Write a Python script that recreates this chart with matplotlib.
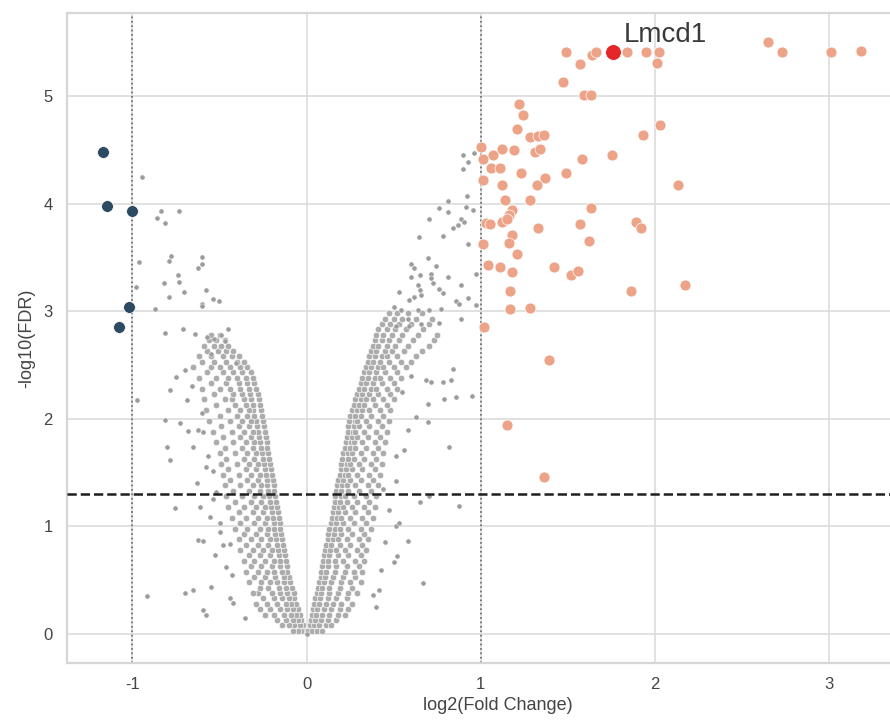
import matplotlib
matplotlib.use("Agg")
import matplotlib.pyplot as plt
import numpy as np

plt.rcParams['font.family'] = ['Liberation Sans', 'DejaVu Sans']
plt.rcParams['axes.unicode_minus'] = False

# ---- data ----
# dense grey core, left arm: (-log10 FDR, [log2 FC values])
left_core = [
    (0.03, [-0.01, -0.03, -0.05, -0.08]),
    (0.08, [-0.02, -0.04, -0.07, -0.10, -0.14]),
    (0.13, [-0.03, -0.05, -0.08, -0.12, -0.17]),
    (0.18, [-0.04, -0.06, -0.09, -0.13, -0.19, -0.24]),
    (0.23, [-0.05, -0.08, -0.11, -0.15, -0.21, -0.27]),
    (0.28, [-0.06, -0.09, -0.12, -0.17, -0.23, -0.29]),
    (0.33, [-0.07, -0.10, -0.14, -0.19, -0.25]),
    (0.38, [-0.075, -0.11, -0.15, -0.20, -0.28, -0.31]),
    (0.43, [-0.085, -0.12, -0.16, -0.22, -0.27]),
    (0.48, [-0.095, -0.13, -0.17, -0.21, -0.26, -0.33]),
    (0.53, [-0.10, -0.13, -0.18, -0.24, -0.30]),
    (0.58, [-0.11, -0.14, -0.19, -0.23, -0.28, -0.35]),
    (0.63, [-0.115, -0.15, -0.20, -0.26, -0.32]),
    (0.68, [-0.12, -0.155, -0.19, -0.24, -0.30, -0.36]),
    (0.73, [-0.125, -0.16, -0.21, -0.27, -0.33]),
    (0.78, [-0.13, -0.165, -0.20, -0.25, -0.31, -0.38]),
    (0.83, [-0.135, -0.17, -0.22, -0.28, -0.35]),
    (0.88, [-0.14, -0.175, -0.21, -0.26, -0.32, -0.39]),
    (0.93, [-0.145, -0.18, -0.23, -0.29, -0.36]),
    (0.98, [-0.15, -0.185, -0.22, -0.27, -0.34, -0.41]),
    (1.03, [-0.155, -0.19, -0.24, -0.30, -0.38]),
    (1.08, [-0.16, -0.195, -0.23, -0.28, -0.35, -0.43]),
    (1.13, [-0.165, -0.20, -0.25, -0.31, -0.39]),
    (1.18, [-0.17, -0.205, -0.24, -0.29, -0.36, -0.45]),
    (1.23, [-0.175, -0.21, -0.26, -0.32, -0.41]),
    (1.28, [-0.18, -0.215, -0.25, -0.30, -0.37, -0.46]),
    (1.33, [-0.185, -0.22, -0.27, -0.33, -0.42]),
    (1.38, [-0.19, -0.225, -0.26, -0.31, -0.38, -0.47]),
    (1.43, [-0.195, -0.23, -0.28, -0.34, -0.44]),
    (1.48, [-0.20, -0.235, -0.27, -0.32, -0.39, -0.48]),
    (1.53, [-0.205, -0.24, -0.29, -0.35, -0.45]),
    (1.58, [-0.21, -0.245, -0.28, -0.33, -0.40, -0.49]),
    (1.63, [-0.215, -0.25, -0.30, -0.36, -0.46]),
    (1.68, [-0.22, -0.255, -0.29, -0.34, -0.41, -0.50]),
    (1.73, [-0.225, -0.26, -0.31, -0.37, -0.47]),
    (1.78, [-0.23, -0.27, -0.30, -0.35, -0.42, -0.52]),
    (1.83, [-0.235, -0.275, -0.32, -0.38, -0.48]),
    (1.88, [-0.24, -0.28, -0.31, -0.36, -0.43, -0.54]),
    (1.93, [-0.245, -0.285, -0.33, -0.39, -0.49]),
    (1.98, [-0.25, -0.29, -0.32, -0.37, -0.44, -0.56]),
    (2.03, [-0.255, -0.30, -0.34, -0.40, -0.50]),
    (2.08, [-0.26, -0.305, -0.33, -0.38, -0.45, -0.58]),
    (2.13, [-0.27, -0.31, -0.35, -0.41, -0.52]),
    (2.18, [-0.275, -0.32, -0.36, -0.43, -0.47, -0.59]),
    (2.23, [-0.28, -0.325, -0.37, -0.42, -0.53]),
    (2.28, [-0.29, -0.33, -0.38, -0.44, -0.50, -0.60]),
    (2.33, [-0.30, -0.34, -0.39, -0.46, -0.55]),
    (2.38, [-0.31, -0.35, -0.40, -0.45, -0.52, -0.62]),
    (2.43, [-0.32, -0.37, -0.42, -0.48, -0.57]),
    (2.48, [-0.34, -0.38, -0.44, -0.50, -0.55, -0.65]),
    (2.53, [-0.36, -0.40, -0.46, -0.53, -0.60]),
    (2.58, [-0.39, -0.43, -0.48, -0.55, -0.62]),
    (2.63, [-0.42, -0.46, -0.51, -0.57]),
    (2.68, [-0.45, -0.49, -0.53, -0.59]),
    (2.73, [-0.47, -0.52, -0.56]),
    (2.78, [-0.50, -0.55]),
]

# dense grey core, right arm
right_core = [
    (0.03, [0.01, 0.03, 0.06, 0.09]),
    (0.08, [0.02, 0.04, 0.07, 0.11, 0.14]),
    (0.13, [0.025, 0.05, 0.08, 0.12, 0.17]),
    (0.18, [0.03, 0.055, 0.09, 0.13, 0.18, 0.22]),
    (0.23, [0.035, 0.06, 0.10, 0.14, 0.19, 0.24]),
    (0.28, [0.045, 0.07, 0.11, 0.15, 0.20, 0.26]),
    (0.33, [0.05, 0.075, 0.12, 0.17, 0.23]),
    (0.38, [0.06, 0.085, 0.13, 0.18, 0.24, 0.29]),
    (0.43, [0.065, 0.09, 0.13, 0.19, 0.26]),
    (0.48, [0.07, 0.10, 0.14, 0.20, 0.25, 0.31]),
    (0.53, [0.08, 0.105, 0.15, 0.21, 0.28]),
    (0.58, [0.085, 0.11, 0.16, 0.22, 0.27, 0.32]),
    (0.63, [0.09, 0.12, 0.17, 0.23, 0.30]),
    (0.68, [0.095, 0.125, 0.16, 0.21, 0.28, 0.33]),
    (0.73, [0.10, 0.13, 0.18, 0.24, 0.31]),
    (0.78, [0.105, 0.135, 0.17, 0.22, 0.29, 0.34]),
    (0.83, [0.11, 0.14, 0.19, 0.25, 0.32]),
    (0.88, [0.12, 0.15, 0.18, 0.23, 0.30, 0.35]),
    (0.93, [0.125, 0.155, 0.20, 0.26, 0.33]),
    (0.98, [0.13, 0.16, 0.19, 0.24, 0.31, 0.37]),
    (1.03, [0.14, 0.17, 0.21, 0.27, 0.34]),
    (1.08, [0.145, 0.175, 0.20, 0.25, 0.32, 0.38]),
    (1.13, [0.15, 0.18, 0.22, 0.28, 0.35]),
    (1.18, [0.155, 0.185, 0.21, 0.26, 0.33, 0.39]),
    (1.23, [0.16, 0.19, 0.23, 0.29, 0.36]),
    (1.28, [0.165, 0.195, 0.22, 0.27, 0.34, 0.40]),
    (1.33, [0.17, 0.20, 0.24, 0.30, 0.37]),
    (1.38, [0.175, 0.205, 0.23, 0.28, 0.35, 0.41]),
    (1.43, [0.18, 0.21, 0.25, 0.31, 0.38]),
    (1.48, [0.19, 0.22, 0.24, 0.29, 0.36, 0.42]),
    (1.53, [0.195, 0.225, 0.26, 0.32, 0.39]),
    (1.58, [0.20, 0.23, 0.25, 0.30, 0.37, 0.43]),
    (1.63, [0.205, 0.235, 0.27, 0.33, 0.40]),
    (1.68, [0.21, 0.24, 0.26, 0.31, 0.38, 0.44]),
    (1.73, [0.22, 0.25, 0.28, 0.34, 0.41]),
    (1.78, [0.225, 0.255, 0.27, 0.32, 0.39, 0.45]),
    (1.83, [0.23, 0.26, 0.29, 0.35, 0.42]),
    (1.88, [0.235, 0.265, 0.28, 0.33, 0.40, 0.46]),
    (1.93, [0.24, 0.27, 0.30, 0.36, 0.43]),
    (1.98, [0.245, 0.275, 0.29, 0.34, 0.41, 0.47]),
    (2.03, [0.25, 0.28, 0.31, 0.37, 0.44]),
    (2.08, [0.26, 0.29, 0.32, 0.36, 0.42, 0.48]),
    (2.13, [0.27, 0.30, 0.33, 0.39, 0.46]),
    (2.18, [0.28, 0.31, 0.34, 0.38, 0.44, 0.50]),
    (2.23, [0.29, 0.32, 0.36, 0.41, 0.48]),
    (2.28, [0.30, 0.33, 0.37, 0.40, 0.46, 0.52]),
    (2.33, [0.31, 0.34, 0.38, 0.43, 0.50]),
    (2.38, [0.32, 0.35, 0.39, 0.42, 0.48, 0.54]),
    (2.43, [0.33, 0.36, 0.40, 0.45, 0.52]),
    (2.48, [0.34, 0.37, 0.41, 0.44, 0.50, 0.57]),
    (2.53, [0.35, 0.38, 0.42, 0.47, 0.54, 0.60]),
    (2.58, [0.36, 0.39, 0.43, 0.46, 0.52, 0.63]),
    (2.63, [0.37, 0.40, 0.45, 0.49, 0.56, 0.66]),
    (2.68, [0.38, 0.41, 0.46, 0.51, 0.58, 0.70]),
    (2.73, [0.39, 0.43, 0.47, 0.53, 0.61, 0.73]),
    (2.78, [0.40, 0.44, 0.49, 0.55, 0.64, 0.75]),
    (2.83, [0.41, 0.46, 0.51, 0.57, 0.67]),
    (2.88, [0.43, 0.48, 0.53, 0.60, 0.70]),
    (2.93, [0.45, 0.50, 0.55, 0.63, 0.72]),
    (2.98, [0.47, 0.52, 0.58, 0.66]),
]

# scattered grey (non-significant) genes
grey_x = [-0.947, -0.833, -0.733, -0.861, -0.814, -0.963, -0.79, -0.78, -0.603, -0.603,
          -0.623, -0.737, -0.732, -0.819, -0.705, -0.579, -0.98, -0.789, -0.537, -0.503,
          -0.598, -0.603, -0.871, -0.814, -0.709, -0.638, -0.57, -0.53, -0.49, -0.45, -0.47,
          -0.976, -0.814, -0.785, -0.747, -0.728, -0.689, -0.680, -0.652, -0.804, -0.785,
          -0.632, -0.756, -0.613, -0.623, -0.594, -0.527, -0.919, -0.699, -0.652, -0.546,
          -0.594, -0.575, -0.441, -0.422, -0.355, -0.623, -0.594, -0.566, -0.537, -0.556,
          -0.499, -0.48, -0.44, -0.699, -0.537, -0.403, -0.46, -0.43, -0.50, -0.52, -0.58,
          -0.60, -0.66, -0.55,
          0.839, 0.781, 0.829, 0.686, 0.714, 0.79, 0.858, 0.95, 0.695, 0.629, 0.695, 0.816,
          0.648, 0.705, 0.873, 0.581, 0.514, 0.533, 0.667, 0.428, 0.399, 0.52, 0.50, 0.56,
          0.514, 0.514, 0.418, 0.38, 0.0, 0.55, 0.60, 0.58, 0.47, 0.45, 0.44,
          0.896, 0.963, 0.925, 0.896, 0.81, 0.919, 0.762, 0.81, 0.915, 0.953, 0.705, 0.886,
          0.905, 0.867, 0.838, 0.644, 0.781, 0.924, 0.695, 0.60, 0.619, 0.743, 0.60, 0.648,
          0.714, 0.714, 0.81, 0.972, 0.533, 0.638, 0.648, 0.657, 0.724, 0.762, 0.781, 0.886,
          0.59, 0.619, 0.858, 0.877, 0.924, 0.972, 0.504, 0.543, 0.638, 0.705, 0.771, 0.58,
          0.514, 0.59, 0.657, 0.762, 0.886]
grey_y = [4.25, 3.93, 3.93, 3.87, 3.82, 3.46, 3.47, 3.51, 3.50, 3.44,
          3.40, 3.34, 3.27, 3.26, 3.18, 3.20, 3.22, 3.13, 3.11, 3.09,
          3.07, 3.05, 3.02, 2.80, 2.83, 2.79, 2.76, 2.74, 2.78, 2.83, 2.72,
          2.17, 1.99, 2.27, 2.39, 1.96, 2.17, 1.89, 1.74, 1.74, 1.62,
          1.40, 1.17, 1.18, 0.87, 0.86, 0.73, 0.35, 0.38, 0.41, 0.44,
          0.22, 0.18, 0.33, 0.29, 0.15, 1.90, 1.88, 1.65, 1.51, 1.09,
          1.03, 0.83, 0.84, 2.45, 1.25, 2.52, 0.62, 0.55, 0.95, 1.32, 1.55,
          2.05, 2.30, 2.60,
          2.46, 2.34, 2.36, 2.36, 2.34, 2.18, 2.20, 2.21, 2.14, 2.02, 1.97, 1.74,
          1.23, 1.28, 1.19, 0.86, 1.00, 1.03, 0.47, 0.59, 0.25, 0.72, 0.67, 1.71,
          1.65, 1.42, 0.41, 0.36, 0.0, 2.25, 2.40, 1.90, 1.15, 0.85, 1.35,
          4.45, 4.47, 4.39, 4.32, 4.02, 4.07, 3.96, 3.92, 3.97, 3.94, 3.86, 3.86,
          3.83, 3.80, 3.77, 3.69, 3.70, 3.62, 3.49, 3.44, 3.40, 3.42, 3.32, 3.34,
          3.35, 3.31, 3.32, 3.35, 3.18, 3.24, 3.20, 3.15, 3.26, 3.21, 3.17, 3.24,
          3.10, 3.13, 3.09, 3.07, 3.12, 3.06, 3.04, 3.01, 3.01, 3.01, 3.02, 2.93,
          2.86, 2.86, 2.88, 2.89, 2.93]

# up-regulated (log2FC > 1, FDR < 0.05)
up_x = [1.49, 1.57, 1.64, 1.66, 1.84, 1.95, 2.02, 2.01, 1.47, 1.59, 1.63, 1.22, 1.24,
        1.21, 1.28, 1.33, 1.36, 2.03, 1.93, 1.00, 1.01, 1.01, 1.06, 1.11, 1.07, 1.12,
        1.19, 1.12, 1.23, 1.31, 1.34, 1.58, 1.75, 1.37, 1.49, 1.32, 2.13, 1.14, 1.28,
        1.18, 1.16, 1.63, 1.03, 1.05, 1.12, 1.15, 1.33, 1.57, 1.89, 1.92, 1.18, 1.16,
        1.01, 1.62, 1.21, 1.04, 1.11, 1.18, 1.42, 1.52, 1.56, 1.17, 1.86, 2.17, 1.17,
        1.28, 1.02, 1.39, 1.15, 1.36, 2.65, 2.73, 3.01, 3.18]
up_y = [5.41, 5.30, 5.38, 5.41, 5.41, 5.41, 5.41, 5.31, 5.13, 5.01, 5.01, 4.93, 4.82,
        4.69, 4.62, 4.63, 4.64, 4.73, 4.64, 4.53, 4.41, 4.22, 4.33, 4.33, 4.45, 4.51,
        4.50, 4.17, 4.28, 4.48, 4.51, 4.41, 4.45, 4.24, 4.28, 4.17, 4.17, 4.03, 4.03,
        3.94, 3.89, 3.96, 3.82, 3.81, 3.83, 3.86, 3.77, 3.81, 3.83, 3.77, 3.71, 3.63,
        3.62, 3.65, 3.53, 3.43, 3.41, 3.36, 3.41, 3.34, 3.37, 3.19, 3.19, 3.24, 3.02,
        3.03, 2.85, 2.55, 1.94, 1.46, 5.50, 5.41, 5.41, 5.42]

# down-regulated (log2FC < -1, FDR < 0.05)
down_x = [-1.167, -1.148, -1.005, -1.02, -1.077]
down_y = [4.48, 3.98, 3.93, 3.04, 2.85]

# highlighted gene
hl_name = 'Lmcd1'
hl_x = 1.76
hl_y = 5.41

fc_cut = 1.0
fdr_cut = -np.log10(0.05)

# ---- build grey arrays ----
cx, cy = [], []
for yv, xs in left_core + right_core:
    cx += xs
    cy += [yv] * len(xs)

# ---- plot ----
fig = plt.figure(figsize=(8.9, 7.22), dpi=100)
ax = fig.add_axes([66.7 / 890, 59 / 722, (929 - 66.7) / 890, (663 - 12.7) / 722])
ax.set_facecolor('white')

ax.grid(True, color='#dcdcdc', linewidth=1.2, zorder=0)
ax.set_axisbelow(True)
for s in ax.spines.values():
    s.set_color('#d6d6d6')
    s.set_linewidth(1.6)

ax.scatter(cx, cy, s=22, c='#acacac', edgecolors='white', linewidths=0.45, zorder=2)
ax.scatter(grey_x, grey_y, s=14, c='#9c9c9c', edgecolors='white', linewidths=0.35,
           zorder=2)
ax.scatter(up_x, up_y, s=62, c='#eca387', edgecolors='white', linewidths=0.5,
           zorder=3)
ax.scatter(down_x, down_y, s=72, c='#2d4a63', edgecolors='white', linewidths=0.5,
           zorder=3)
ax.scatter([hl_x], [hl_y], s=130, c='#e5262b', edgecolors='white', linewidths=0.6,
           zorder=4)
ax.text(hl_x + 0.06, hl_y + 0.09, hl_name, fontsize=20, color='#3a3a3a', zorder=5)

ax.axvline(-fc_cut, color='#666666', linestyle=':', linewidth=1.2, zorder=1)
ax.axvline(fc_cut, color='#666666', linestyle=':', linewidth=1.2, zorder=1)
ax.axhline(fdr_cut, color='#1e1e1e', linestyle='--', linewidth=1.8, zorder=5)

ax.set_xlim(-1.377, 3.572)
ax.set_ylim(-0.27, 5.774)
ax.set_xticks([-1, 0, 1, 2, 3])
ax.set_yticks([0, 1, 2, 3, 4, 5])
ax.tick_params(length=0, labelsize=12, labelcolor='#444444', pad=10)

ax.set_xlabel('log2(Fold Change)', fontsize=13, color='#444444', labelpad=4)
ax.set_ylabel('-log10(FDR)', fontsize=13, color='#444444', labelpad=6)

fig.savefig('out.png', dpi=100)
